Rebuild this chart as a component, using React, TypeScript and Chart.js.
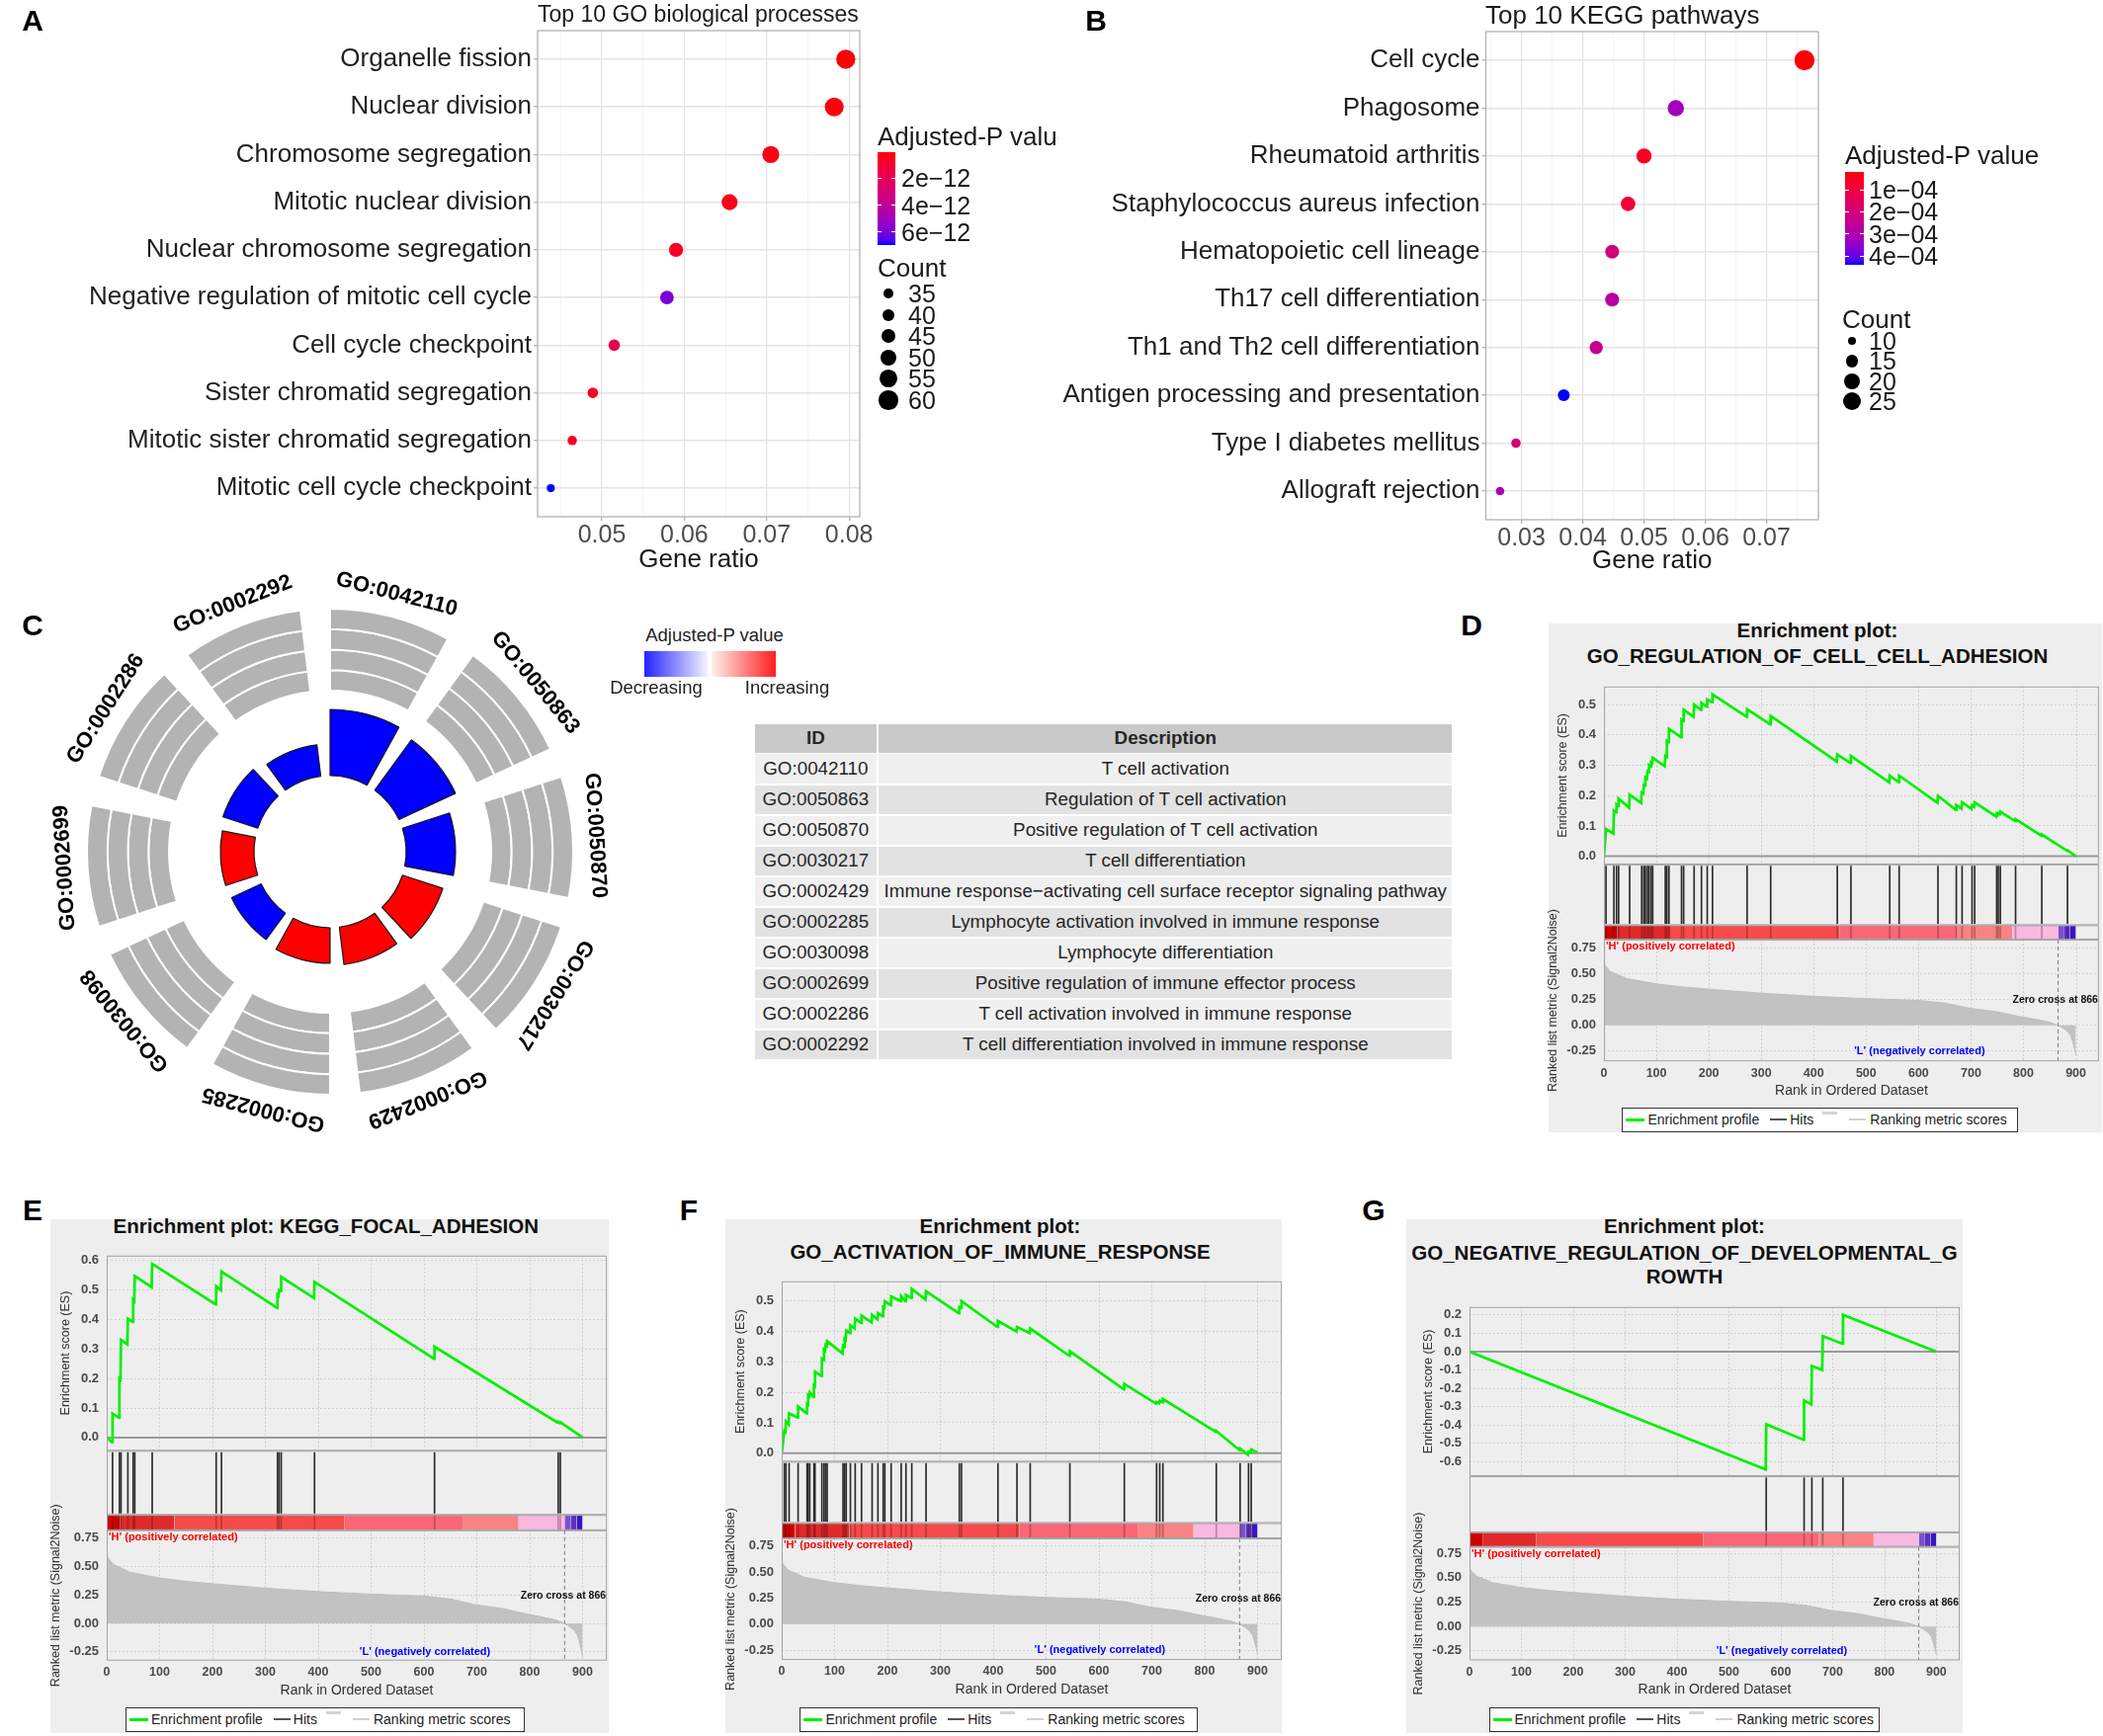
import React, { useEffect, useRef } from "react";
import { Chart, registerables } from "chart.js";

Chart.register(...registerables);
const FONT = '"Liberation Sans", Arial, Helvetica, sans-serif';
Chart.defaults.font.family = FONT;

/* ================= Panel A: top 10 GO biological processes ================= */
const GO_TERMS = [
  "Organelle fission",
  "Nuclear division",
  "Chromosome segregation",
  "Mitotic nuclear division",
  "Nuclear chromosome segregation",
  "Negative regulation of mitotic cell cycle",
  "Cell cycle checkpoint",
  "Sister chromatid segregation",
  "Mitotic sister chromatid segregation",
  "Mitotic cell cycle checkpoint",
];
const GO_GENE_RATIO = [0.0796, 0.0782, 0.0705, 0.0655, 0.059, 0.0579, 0.0515, 0.0489, 0.0464, 0.0438];
const GO_COUNT = [60, 59, 53, 50, 45, 44, 39, 37, 35, 33];
const GO_PADJ = [1.0e-13, 2.0e-13, 3.0e-13, 4.0e-13, 6.0e-13, 5.9e-12, 1.8e-12, 5.5e-13, 6.0e-13, 6.96e-12];
const GO_PADJ_LIMITS = [0.07e-12, 6.96e-12];
const GO_PADJ_BREAKS = [2e-12, 4e-12, 6e-12];
const GO_PADJ_LABELS = ["2e\u221212", "4e\u221212", "6e\u221212"];
const GO_COUNT_BREAKS = [35, 40, 45, 50, 55, 60];

/* ================= Panel B: top 10 KEGG pathways ================= */
const KEGG_TERMS = [
  "Cell cycle",
  "Phagosome",
  "Rheumatoid arthritis",
  "Staphylococcus aureus infection",
  "Hematopoietic cell lineage",
  "Th17 cell differentiation",
  "Th1 and Th2 cell differentiation",
  "Antigen processing and presentation",
  "Type I diabetes mellitus",
  "Allograft rejection",
];
const KEGG_GENE_RATIO = [0.0762, 0.0552, 0.05, 0.0474, 0.0448, 0.0448, 0.0422, 0.0369, 0.0291, 0.0265];
const KEGG_COUNT = [29, 21, 19, 18, 17, 17, 16, 14, 11, 10];
const KEGG_PADJ = [1.9e-5, 3.22e-4, 4.9e-5, 8.2e-5, 2.08e-4, 2.8e-4, 2.42e-4, 4.4e-4, 1.87e-4, 3.05e-4];
const KEGG_PADJ_LIMITS = [1.9e-5, 4.4e-4];
const KEGG_PADJ_BREAKS = [1e-4, 2e-4, 3e-4, 4e-4];
const KEGG_PADJ_LABELS = ["1e\u221204", "2e\u221204", "3e\u221204", "4e\u221204"];
const KEGG_COUNT_BREAKS = [10, 15, 20, 25];

/* ================= Panel C: GO circle + table ================= */
const CIRCLE_IDS = [
  "GO:0042110", "GO:0050863", "GO:0050870", "GO:0030217", "GO:0002429",
  "GO:0002285", "GO:0030098", "GO:0002699", "GO:0002286", "GO:0002292",
];
const CIRCLE_BAR = [67, 63, 50, 43, 38, 36, 33, 34, 37, 32];
const CIRCLE_TREND = ["down", "down", "down", "up", "up", "up", "down", "up", "down", "down"];
const TABLE_DESCRIPTIONS = [
  "T cell activation",
  "Regulation of T cell activation",
  "Positive regulation of T cell activation",
  "T cell differentiation",
  "Immune response\u2212activating cell surface receptor signaling pathway",
  "Lymphocyte activation involved in immune response",
  "Lymphocyte differentiation",
  "Positive regulation of immune effector process",
  "T cell activation involved in immune response",
  "T cell differentiation involved in immune response",
];
const RING_BANDS = [1, 2, 3, 4];

/* ================= Panels D-G: GSEA enrichment plots ================= */
const METRIC_RANK = [0, 2, 12, 44, 99, 150, 196, 300, 398, 488, 600, 650, 696, 750, 787, 820, 849, 866, 876, 884, 890, 894, 897, 900];
const METRIC_VALUE = [0.62, 0.58, 0.52, 0.45, 0.4, 0.37, 0.35, 0.31, 0.28, 0.26, 0.24, 0.215, 0.165, 0.13, 0.09, 0.06, 0.03, 0, -0.03, -0.06, -0.1, -0.16, -0.22, -0.29];
const ZERO_CROSS = 866;
const STRIP_START = [0, 25, 128, 450, 673, 779, 866, 878, 889];
const STRIP_END = [25, 128, 450, 673, 779, 866, 878, 889, 900];
const STRIP_COLOR = ["#cf0000", "#e02a2a", "#f74a4a", "#fa6676", "#fa8282", "#f8b8e2", "#7a50cc", "#5832c6", "#3814c2"];

const D_HITS = [4, 19, 24, 28, 49, 72, 76, 79, 83, 86, 90, 93, 117, 120, 124, 148, 152, 172, 186, 197, 207, 273, 318, 445, 471, 545, 563, 637, 672, 683, 702, 707, 749, 752, 756, 785, 835, 884];
const D_ES_RANK = [0, 4, 18, 19, 23, 24, 27, 28, 48, 49, 71, 72, 75, 76, 78, 79, 82, 83, 85, 86, 89, 90, 92, 93, 116, 117, 119, 120, 123, 124, 147, 148, 151, 152, 171, 172, 185, 186, 196, 197, 206, 207, 272, 273, 317, 318, 444, 445, 470, 471, 544, 545, 562, 563, 636, 637, 671, 672, 682, 683, 701, 702, 706, 707, 748, 749, 751, 752, 755, 756, 784, 785, 834, 835, 883, 884, 900];
const D_ES = [0, 0.09, 0.075, 0.15, 0.145, 0.17, 0.165, 0.19, 0.16, 0.203, 0.176, 0.21, 0.207, 0.235, 0.233, 0.26, 0.257, 0.28, 0.278, 0.3, 0.296, 0.31, 0.308, 0.325, 0.297, 0.33, 0.327, 0.38, 0.376, 0.42, 0.393, 0.45, 0.446, 0.483, 0.46, 0.5, 0.483, 0.506, 0.494, 0.517, 0.508, 0.534, 0.46, 0.485, 0.435, 0.463, 0.312, 0.336, 0.308, 0.331, 0.244, 0.266, 0.244, 0.266, 0.176, 0.199, 0.153, 0.169, 0.157, 0.178, 0.156, 0.168, 0.163, 0.178, 0.131, 0.14, 0.137, 0.142, 0.139, 0.147, 0.116, 0.122, 0.068, 0.072, 0.018, 0.02, 0];

const E_HITS = [11, 24, 27, 40, 50, 53, 86, 207, 217, 323, 326, 330, 393, 620, 854, 858];
const E_ES_RANK = [0, 10, 11, 23, 24, 26, 27, 39, 40, 49, 50, 52, 53, 85, 86, 206, 207, 216, 217, 322, 323, 325, 326, 329, 330, 392, 393, 619, 620, 853, 854, 857, 858, 900];
const E_ES = [0, -0.016, 0.081, 0.067, 0.2, 0.197, 0.331, 0.316, 0.403, 0.392, 0.467, 0.463, 0.548, 0.51, 0.589, 0.452, 0.513, 0.5, 0.563, 0.44, 0.485, 0.482, 0.5, 0.497, 0.545, 0.473, 0.528, 0.267, 0.308, 0.05, 0.053, 0.049, 0.052, 0];

const F_HITS = [5, 8, 14, 31, 48, 50, 53, 61, 63, 76, 80, 83, 86, 116, 119, 122, 130, 139, 151, 171, 182, 192, 195, 207, 226, 235, 246, 273, 336, 340, 409, 445, 470, 545, 648, 709, 715, 721, 822, 867, 883, 888];
const F_ES_RANK = [0, 5, 7, 8, 13, 14, 30, 31, 47, 48, 49, 50, 52, 53, 60, 61, 62, 63, 75, 76, 79, 80, 82, 83, 85, 86, 115, 116, 118, 119, 121, 122, 129, 130, 138, 139, 150, 151, 170, 171, 181, 182, 191, 192, 194, 195, 206, 207, 225, 226, 234, 235, 245, 246, 272, 273, 335, 336, 339, 340, 408, 409, 444, 445, 469, 470, 544, 545, 647, 648, 708, 709, 714, 715, 720, 721, 821, 822, 866, 867, 882, 883, 887, 888, 900];
const F_ES = [0, 0.073, 0.07, 0.104, 0.095, 0.131, 0.117, 0.153, 0.131, 0.16, 0.158, 0.19, 0.187, 0.2, 0.185, 0.22, 0.218, 0.268, 0.254, 0.31, 0.306, 0.34, 0.337, 0.355, 0.352, 0.368, 0.328, 0.352, 0.349, 0.375, 0.372, 0.403, 0.395, 0.42, 0.41, 0.442, 0.428, 0.452, 0.43, 0.455, 0.44, 0.46, 0.45, 0.48, 0.478, 0.5, 0.487, 0.515, 0.5, 0.516, 0.5, 0.52, 0.51, 0.54, 0.505, 0.532, 0.46, 0.48, 0.477, 0.5, 0.415, 0.435, 0.4, 0.415, 0.395, 0.41, 0.32, 0.335, 0.21, 0.228, 0.163, 0.168, 0.164, 0.172, 0.168, 0.178, 0.07, 0.073, 0.01, 0.015, -0.005, 0.004, 0.002, 0.012, 0.002];

const G_HITS = [572, 645, 660, 681, 720];
const G_ES_RANK = [0, 571, 572, 644, 645, 659, 660, 680, 681, 719, 720, 900];
const G_ES = [0, -0.643, -0.396, -0.481, -0.267, -0.287, -0.078, -0.1, 0.085, 0.043, 0.2, 0];

/* ================= colour scale (CIELAB gradient red -> blue) ================= */
const lin = (c: number) => { c /= 255; return c <= 0.04045 ? c / 12.92 : Math.pow((c + 0.055) / 1.055, 2.4); };
const gam = (c: number) => {
  const v = c <= 0.0031308 ? 12.92 * c : 1.055 * Math.pow(c, 1 / 2.4) - 0.055;
  return Math.round(Math.min(1, Math.max(0, v)) * 255);
};
function toLab(rgb: number[]) {
  const [r, g, b] = rgb.map(lin);
  const X = (0.4124564 * r + 0.3575761 * g + 0.1804375 * b) / 0.95047;
  const Y = 0.2126729 * r + 0.7151522 * g + 0.072175 * b;
  const Z = (0.0193339 * r + 0.119192 * g + 0.9503041 * b) / 1.08883;
  const f = (t: number) => (t > 216 / 24389 ? Math.cbrt(t) : ((24389 / 27) * t + 16) / 116);
  const fx = f(X), fy = f(Y), fz = f(Z);
  return [116 * fy - 16, 500 * (fx - fy), 200 * (fy - fz)];
}
function fromLab(lab: number[]) {
  const [L, a, b] = lab;
  const fy = (L + 16) / 116, fx = fy + a / 500, fz = fy - b / 200;
  const inv = (t: number) => (t * t * t > 216 / 24389 ? t * t * t : (116 * t - 16) / (24389 / 27));
  const X = inv(fx) * 0.95047, Y = inv(fy), Z = inv(fz) * 1.08883;
  const r = 3.2404542 * X - 1.5371385 * Y - 0.4985314 * Z;
  const g = -0.969266 * X + 1.8760108 * Y + 0.041556 * Z;
  const bb = 0.0556434 * X - 0.2040259 * Y + 1.0572252 * Z;
  return [gam(r), gam(g), gam(bb)];
}
const LAB_LOW = toLab([255, 0, 0]);
const LAB_HIGH = toLab([0, 0, 255]);
function gradientColor(t: number) {
  const u = Math.min(1, Math.max(0, t));
  const [r, g, b] = fromLab(LAB_LOW.map((v, i) => v + (LAB_HIGH[i] - v) * u));
  return `rgb(${r},${g},${b})`;
}
const padjColor = (p: number, lim: number[]) => gradientColor((p - lim[0]) / (lim[1] - lim[0]));
const radiusGO = (c: number) => Math.sqrt(16.8 + (c - 33) * 2.86);
const radiusKEGG = (c: number) => Math.sqrt(18.5 + (c - 10) * 4.5);

/* ================= helpers ================= */
type Box = { l: number; t: number; r: number; b: number };

function ChartCanvas({ x, y, w, h, make }: { x: number; y: number; w: number; h: number; make: () => any }) {
  const ref = useRef<HTMLCanvasElement | null>(null);
  useEffect(() => {
    if (!ref.current) return;
    const chart = new Chart(ref.current, make());
    return () => chart.destroy();
  }, []);
  return <canvas ref={ref} width={w} height={h} style={{ position: "absolute", left: x, top: y, width: w, height: h }} />;
}

function Txt({ x, y, size, children, bold, color = "#1a1a1a", align = "left" }: any) {
  const tx = align === "center" ? "-50%" : align === "right" ? "-100%" : "0";
  return (
    <div style={{ position: "absolute", left: x, top: y, transform: `translate(${tx}, -50%)`, fontSize: size, fontWeight: bold ? 700 : 400, color, fontFamily: FONT, whiteSpace: "nowrap", lineHeight: 1 }}>
      {children}
    </div>
  );
}

const framePlugin = (color: string, lw: number) => ({
  id: "frame",
  afterDraw(chart: any) {
    const { ctx, chartArea: a } = chart;
    ctx.save();
    ctx.strokeStyle = color;
    ctx.lineWidth = lw;
    ctx.strokeRect(a.left, a.top, a.right - a.left, a.bottom - a.top);
    ctx.restore();
  },
});

/* ================= dot plots (A, B) ================= */
function dotPlotConfig(p: any) {
  const isMajor = (v: number) => Math.abs(v * 100 - Math.round(v * 100)) < 1e-6;
  return {
    type: "bubble",
    data: {
      datasets: [{
        data: p.terms.map((_: string, i: number) => ({ x: p.ratio[i], y: i + 1, r: p.radius(p.count[i]) })),
        backgroundColor: p.padj.map((v: number) => padjColor(v, p.limits)),
        borderWidth: 0,
      }],
    },
    options: {
      animation: false, responsive: false, maintainAspectRatio: false,
      layout: { padding: { left: 0, top: p.padTop, right: p.padRight, bottom: 0 }, autoPadding: false },
      plugins: { legend: { display: false }, tooltip: { enabled: false } },
      scales: {
        x: {
          type: "linear", min: p.xMin, max: p.xMax, offset: false,
          ticks: { stepSize: 0.005, includeBounds: false, autoSkip: false, maxRotation: 0, padding: 0, color: "#4d4d4d", font: { size: 25 },
            callback: (v: number) => (isMajor(v) ? Number(v).toFixed(2) : "") },
          grid: {
            color: (c: any) => (isMajor(c.tick.value) ? "#e4e4e4" : "#f1f1f1"),
            lineWidth: (c: any) => (isMajor(c.tick.value) ? 1.3 : 0.8),
            tickColor: (c: any) => (isMajor(c.tick.value) ? "#b3b3b3" : "rgba(0,0,0,0)"),
            tickLength: 4, tickWidth: 1.3,
          },
          border: { display: false },
          title: { display: true, text: "Gene ratio", color: "#1a1a1a", font: { size: 26 }, padding: { top: 0, bottom: p.xTitlePad } },
          afterFit: (s: any) => { s.height = p.xAxisH; },
        },
        y: {
          type: "linear", reverse: true, min: 0.4, max: p.terms.length + 0.6, offset: false,
          ticks: { stepSize: 1, includeBounds: false, autoSkip: false, padding: 2, color: "#1f1f1f", font: { size: 26 },
            callback: (v: number) => p.terms[Math.round(v) - 1] ?? "" },
          grid: { color: "#e4e4e4", lineWidth: 1.4, tickColor: "#b3b3b3", tickLength: 4, tickWidth: 1.3 },
          border: { display: false },
          afterFit: (s: any) => { s.width = p.yAxisW; },
        },
      },
    },
    plugins: [framePlugin("#b3b3b3", 1.3)],
  };
}

function ColorBarLegend(p: any) {
  const stops = Array.from({ length: 21 }, (_, k) => gradientColor(k / 20)).join(", ");
  const h = p.bar.b - p.bar.t;
  return (
    <>
      <div style={{ position: "absolute", left: p.titleX, top: p.titleY - 16, width: p.clipW, height: 32, overflow: "hidden" }}>
        <div style={{ fontSize: 26, lineHeight: "32px", whiteSpace: "nowrap", color: "#1a1a1a", fontFamily: FONT }}>{p.title}</div>
      </div>
      <div style={{ position: "absolute", left: p.bar.l, top: p.bar.t, width: p.bar.r - p.bar.l, height: h, background: `linear-gradient(to bottom, ${stops})` }} />
      {p.breaks.map((v: number, i: number) => {
        const y = p.bar.t + ((v - p.limits[0]) / (p.limits[1] - p.limits[0])) * h;
        return (
          <React.Fragment key={i}>
            <div style={{ position: "absolute", left: p.bar.l, top: y - 0.5, width: 4, height: 1, background: "#fff" }} />
            <div style={{ position: "absolute", left: p.bar.r - 4, top: y - 0.5, width: 4, height: 1, background: "#fff" }} />
            <Txt x={p.labelX} y={y} size={25}>{p.labels[i]}</Txt>
          </React.Fragment>
        );
      })}
    </>
  );
}

function CountLegend(p: any) {
  return (
    <>
      <Txt x={p.titleX} y={p.titleY} size={26}>Count</Txt>
      {p.counts.map((c: number, i: number) => {
        const r = p.radius(c);
        return (
          <React.Fragment key={c}>
            <div style={{ position: "absolute", left: p.dotX - r, top: p.ys[i] - r, width: 2 * r, height: 2 * r, borderRadius: "50%", background: "#000" }} />
            <Txt x={p.labelX} y={p.ys[i]} size={25}>{c}</Txt>
          </React.Fragment>
        );
      })}
    </>
  );
}

/* ================= GO circle (C) ================= */
const SEG_DEG = 29;
const GAP_DEG = 7;
const INNER_R = 77;
const LABEL_R = 269;

function ringConfig() {
  return {
    type: "doughnut",
    data: {
      labels: CIRCLE_IDS.flatMap((id) => [id, ""]),
      datasets: RING_BANDS.map(() => ({
        data: CIRCLE_IDS.flatMap(() => [SEG_DEG, GAP_DEG]),
        backgroundColor: CIRCLE_IDS.flatMap(() => ["#b3b3b3", "rgba(0,0,0,0)"]),
        borderColor: "#ffffff",
        borderWidth: CIRCLE_IDS.flatMap(() => [2, 0]),
        hoverOffset: 0,
      })),
    },
    options: {
      animation: false, responsive: false, maintainAspectRatio: false,
      cutout: "66.26%",
      layout: { padding: 43, autoPadding: false },
      plugins: { legend: { display: false }, tooltip: { enabled: false } },
    },
    plugins: [{
      id: "circleLabels",
      afterDraw(chart: any) {
        const { ctx, chartArea: a } = chart;
        const cx = (a.left + a.right) / 2, cy = (a.top + a.bottom) / 2;
        ctx.save();
        ctx.font = `bold 22px ${FONT}`;
        ctx.fillStyle = "#000";
        ctx.textAlign = "center";
        ctx.textBaseline = "middle";
        CIRCLE_IDS.forEach((id, i) => {
          const th = ((i * (SEG_DEG + GAP_DEG) + SEG_DEG / 2) * Math.PI) / 180;
          ctx.save();
          ctx.translate(cx + LABEL_R * Math.sin(th), cy - LABEL_R * Math.cos(th));
          ctx.rotate(th);
          ctx.fillText(id, 0, 0);
          ctx.restore();
        });
        ctx.restore();
      },
    }],
  };
}

function barRingConfig() {
  return {
    type: "polarArea",
    data: {
      labels: CIRCLE_IDS.flatMap((id) => [id, ""]),
      datasets: [{
        data: CIRCLE_IDS.flatMap((_, i) => [CIRCLE_BAR[i], 0]),
        backgroundColor: CIRCLE_IDS.flatMap((_, i) => [CIRCLE_TREND[i] === "up" ? "#ff0000" : "#0000ff", "rgba(0,0,0,0)"]),
        borderColor: "#1a1a1a",
        borderWidth: CIRCLE_IDS.flatMap(() => [1.2, 0]),
        angle: (c: any) => (c.dataIndex % 2 === 0 ? SEG_DEG : GAP_DEG),
      }],
    },
    options: {
      animation: false, responsive: false, maintainAspectRatio: false,
      layout: { padding: 43, autoPadding: false },
      plugins: { legend: { display: false }, tooltip: { enabled: false } },
      scales: { r: { display: false, min: -INNER_R, max: 247 - INNER_R, startAngle: 0 } },
    },
    plugins: [{
      id: "innerBase",
      afterDatasetsUpdate(chart: any) {
        const s = chart.scales.r;
        const base = s.getDistanceFromCenterForValue(0);
        chart.getDatasetMeta(0).data.forEach((el: any) => { el.innerRadius = base; });
      },
    }],
  };
}

function GoTable() {
  const x = 764, y = 733.3, idW = 122.7, descW = 580, headH = 28.4, rowH = 31;
  const cellStyle = (w: number, bg: string, bold: boolean) => ({
    width: w, height: "100%", background: bg, display: "flex", alignItems: "center", justifyContent: "center",
    fontWeight: bold ? 700 : 400, whiteSpace: "nowrap" as const,
  });
  return (
    <div style={{ position: "absolute", left: x, top: y, width: idW + 2.6 + descW, fontFamily: FONT, fontSize: 18.8, color: "#262626" }}>
      <div style={{ display: "flex", height: headH }}>
        <div style={cellStyle(idW, "#c9c9c9", true)}>ID</div>
        <div style={{ width: 2.6 }} />
        <div style={cellStyle(descW, "#c9c9c9", true)}>Description</div>
      </div>
      {CIRCLE_IDS.map((id, i) => {
        const bg = i % 2 === 0 ? "#f0f0f0" : "#e2e2e2";
        return (
          <div key={id} style={{ display: "flex", height: rowH, paddingTop: i === 0 ? 1.6 : 2, boxSizing: "border-box" }}>
            <div style={cellStyle(idW, bg, false)}>{id}</div>
            <div style={{ width: 2.6 }} />
            <div style={cellStyle(descW, bg, false)}>{TABLE_DESCRIPTIONS[i]}</div>
          </div>
        );
      })}
    </div>
  );
}

/* ================= GSEA plots (D-G) ================= */
const GSEA_YW = 78;
const GSEA_XH = 40;
const GSEA_PADTOP = 4;

const gseaDecor = {
  id: "gseaDecor",
  beforeDatasetsDraw(chart: any) {
    const { ctx, scales } = chart;
    const x = scales.x;
    ctx.save();
    ctx.strokeStyle = "#cfcfcf";
    ctx.lineWidth = 1;
    ctx.setLineDash([2, 2]);
    x.ticks.forEach((t: any) => {
      if (t.value <= 0) return;
      const px = Math.round(x.getPixelForValue(t.value)) + 0.5;
      ["yES", "yMetric"].forEach((id) => {
        const s = scales[id];
        ctx.beginPath();
        ctx.moveTo(px, s.top);
        ctx.lineTo(px, s.bottom);
        ctx.stroke();
      });
    });
    ctx.restore();
  },
  afterDatasetsDraw(chart: any) {
    const { ctx, chartArea: a, scales } = chart;
    ctx.save();
    ctx.strokeStyle = "#a3a3a3";
    ctx.lineWidth = 1;
    ["yES", "yHits", "yBar", "yMetric"].forEach((id) => {
      const s = scales[id];
      ctx.strokeRect(a.left + 0.5, s.top + 0.5, a.right - a.left - 1, s.bottom - s.top - 1);
    });
    const m = scales.yMetric, x = scales.x;
    ctx.textBaseline = "middle";
    ctx.font = `bold 11px ${FONT}`;
    ctx.fillStyle = "#ff0000";
    ctx.textAlign = "left";
    ctx.fillText("'H' (positively correlated)", a.left + 2, m.top + 7);
    ctx.fillStyle = "#0000ff";
    ctx.textAlign = "center";
    ctx.fillText("'L' (negatively correlated)", x.getPixelForValue(602), m.getPixelForValue(-0.25));
    ctx.font = `bold 10.5px ${FONT}`;
    ctx.fillStyle = "#111";
    ctx.textAlign = "right";
    ctx.fillText(`Zero cross at ${ZERO_CROSS}`, a.right - 1, m.getPixelForValue(0.24));
    ctx.restore();
  },
};

function gseaConfig(L: any, hits: number[], esRank: number[], es: number[], padRight: number, padBottom: number) {
  const esH = L.esB - L.esT, hitsH = L.hitsB - L.esB, barH = L.barB - L.hitsB, metH = L.metB - L.barB;
  const yTickFont = { size: 13, weight: "bold" };
  const xTickFont = { size: 12.5, weight: "bold" };
  const hiddenY = (w: number, h: number, min: number, max: number) => ({
    type: "linear", position: "left", stack: "gsea", stackWeight: h, weight: w, min, max,
    ticks: { display: false }, grid: { display: false, drawTicks: false }, border: { display: false },
    afterFit: (s: any) => { s.width = GSEA_YW; },
  });
  return {
    type: "line",
    data: {
      datasets: [
        { label: "Enrichment profile", data: esRank.map((r, i) => ({ x: r, y: es[i] })), yAxisID: "yES", borderColor: "#00f000", borderWidth: 2.7, pointRadius: 0, fill: false, order: 0 },
        { label: "zero", data: [{ x: 0, y: 0 }, { x: L.xMax, y: 0 }], yAxisID: "yES", borderColor: "#9a9a9a", borderWidth: 2, pointRadius: 0, fill: false, order: 8 },
        { type: "bar", label: "Hits", data: hits.map((r) => ({ x: r, y: 1 })), yAxisID: "yHits", backgroundColor: "#2a2a2a", barThickness: 1, grouped: false, order: 3 },
        { type: "bar", label: "Hits in strip", data: hits.map((r) => ({ x: r, y: 1 })), yAxisID: "yBar", backgroundColor: "rgba(70,0,0,0.3)", barThickness: 1, grouped: false, order: 5 },
        ...STRIP_START.map((s, i) => ({
          label: "strip", data: [{ x: s, y: 1 }, { x: STRIP_END[i], y: 1 }], yAxisID: "yBar",
          borderColor: "rgba(0,0,0,0)", borderWidth: 0, pointRadius: 0, fill: "origin", backgroundColor: STRIP_COLOR[i], order: 9,
        })),
        { label: "Ranking metric scores", data: METRIC_RANK.map((r, i) => ({ x: r, y: METRIC_VALUE[i] })), yAxisID: "yMetric", borderColor: "#bdbdbd", borderWidth: 1, pointRadius: 0, fill: "origin", backgroundColor: "#c2c2c2", order: 7 },
        { label: "zero cross", data: [{ x: ZERO_CROSS, y: L.met[1] }, { x: ZERO_CROSS, y: L.met[0] }], yAxisID: "yMetric", borderColor: "#7a7a7a", borderWidth: 1, borderDash: [4, 3], pointRadius: 0, fill: false, order: 2 },
      ],
    },
    options: {
      animation: false, responsive: false, maintainAspectRatio: false,
      layout: { padding: { left: 0, top: GSEA_PADTOP, right: padRight, bottom: padBottom }, autoPadding: false },
      plugins: { legend: { display: false }, tooltip: { enabled: false } },
      elements: { line: { tension: 0 } },
      scales: {
        x: {
          type: "linear", position: "bottom", min: 0, max: L.xMax, offset: false,
          ticks: { stepSize: 100, includeBounds: false, autoSkip: false, maxRotation: 0, font: xTickFont, color: "#4a4a4a", padding: 4.5 },
          grid: { display: false, drawTicks: false, offset: false },
          border: { display: false },
          title: { display: true, text: "Rank in Ordered Dataset", font: { size: 14 }, color: "#333", padding: { top: 0, bottom: 1.6 } },
          afterFit: (s: any) => { s.height = GSEA_XH; },
        },
        yES: {
          type: "linear", position: "left", stack: "gsea", stackWeight: esH, weight: 4, min: L.es[0], max: L.es[1],
          ticks: { stepSize: 0.1, includeBounds: false, autoSkip: false, font: yTickFont, color: "#4a4a4a", padding: 8, callback: (v: number) => Number(v).toFixed(1) },
          grid: { color: "#d3d3d3", drawTicks: false },
          border: { display: false, dash: [2, 2] },
          title: { display: true, text: "Enrichment score (ES)", font: { size: 12.5 }, color: "#333", padding: { top: 29, bottom: 0 } },
          afterFit: (s: any) => { s.width = GSEA_YW; },
        },
        yHits: hiddenY(3, hitsH, -0.03, 1.03),
        yBar: hiddenY(2, barH, 0, 1),
        yMetric: {
          type: "linear", position: "left", stack: "gsea", stackWeight: metH, weight: 1, min: L.met[0], max: L.met[1],
          ticks: { stepSize: 0.25, includeBounds: false, autoSkip: false, font: yTickFont, color: "#4a4a4a", padding: 8, callback: (v: number) => Number(v).toFixed(2) },
          grid: { color: "#d3d3d3", drawTicks: false },
          border: { display: false, dash: [2, 2] },
          title: { display: true, text: "Ranked list metric (Signal2Noise)", font: { size: 12.5 }, color: "#333", padding: { top: 19, bottom: 0 } },
          afterFit: (s: any) => { s.width = GSEA_YW; },
        },
      },
    },
    plugins: [gseaDecor],
  };
}

function GseaLegend({ b }: { b: Box }) {
  const line = (w: number, c: string, h = 2) => (
    <span style={{ display: "inline-block", width: w, height: h, background: c, verticalAlign: "middle" }} />
  );
  return (
    <div style={{ position: "absolute", left: b.l, top: b.t, width: b.r - b.l, height: b.b - b.t, boxSizing: "border-box", border: "1.5px solid #333", background: "#fff", fontFamily: FONT, fontSize: 14, color: "#222", display: "flex", alignItems: "center", paddingLeft: 3, whiteSpace: "nowrap" }}>
      {line(19, "#00f000", 3)}
      <span style={{ marginLeft: 3 }}>Enrichment profile</span>
      <span style={{ marginLeft: 11 }} />
      {line(17, "#555")}
      <span style={{ marginLeft: 3 }}>Hits</span>
      <span style={{ display: "inline-block", width: 15, height: 3, background: "#d4d4d4", marginLeft: 9, position: "relative", top: -7 }} />
      <span style={{ marginLeft: 12 }} />
      {line(17, "#d0d0d0")}
      <span style={{ marginLeft: 4 }}>Ranking metric scores</span>
    </div>
  );
}

function GseaPanel({ L, hits, esRank, es }: any) {
  const plotW = L.plotR - L.plotL, plotH = L.metB - L.esT;
  const cw = Math.ceil(GSEA_YW + plotW + 2);
  const ch = Math.ceil(GSEA_PADTOP + plotH + GSEA_XH + 1);
  const padRight = cw - GSEA_YW - plotW;
  const padBottom = ch - GSEA_PADTOP - plotH - GSEA_XH;
  return (
    <>
      <div style={{ position: "absolute", left: L.box.l, top: L.box.t, width: L.box.r - L.box.l, height: L.box.b - L.box.t, background: "#eeeeee" }} />
      <ChartCanvas x={L.plotL - GSEA_YW} y={L.esT - GSEA_PADTOP} w={cw} h={ch} make={() => gseaConfig(L, hits, esRank, es, padRight, padBottom)} />
      {L.titleLines.map((s: string, i: number) => (
        <Txt key={i} x={L.titleX} y={L.titleY[i]} size={20.5} bold align="center" color="#111">{s}</Txt>
      ))}
      <GseaLegend b={L.legend} />
    </>
  );
}

const LAYOUT_D = {
  box: { l: 1566.6, t: 631.4, r: 2127, b: 1146 }, titleX: 1839,
  titleLines: ["Enrichment plot:", "GO_REGULATION_OF_CELL_CELL_ADHESION"], titleY: [637.5, 664],
  plotL: 1622.6, plotR: 2123.5, esT: 682.9, esB: 868.6, hitsB: 932, barB: 947, metB: 1074,
  xMax: 944, es: [-0.027, 0.56], met: [-0.348, 0.828], legend: { l: 1641.4, t: 1120.7, r: 2042, b: 1145.7 },
};
const LAYOUT_E = {
  box: { l: 51, t: 1233.7, r: 615.5, b: 1754 }, titleX: 329.8,
  titleLines: ["Enrichment plot: KEGG_FOCAL_ADHESION"], titleY: [1240.9],
  plotL: 108.2, plotR: 614.3, esT: 1258.6, esB: 1461.8, hitsB: 1528.6, barB: 1544.6, metB: 1680.3,
  xMax: 946, es: [-0.045, 0.617], met: [-0.327, 0.819], legend: { l: 127, t: 1727.5, r: 530.6, b: 1752.7 },
};
const LAYOUT_F = {
  box: { l: 733.5, t: 1233.7, r: 1296.7, b: 1754 }, titleX: 1012,
  titleLines: ["Enrichment plot:", "GO_ACTIVATION_OF_IMMUNE_RESPONSE"], titleY: [1240.9, 1266.8],
  plotL: 790.6, plotR: 1296.7, esT: 1285.3, esB: 1473.5, hitsB: 1537.5, barB: 1553.5, metB: 1680.3,
  xMax: 946, es: [-0.028, 0.565], met: [-0.344, 0.825], legend: { l: 809.4, t: 1727.5, r: 1212.2, b: 1753 },
};
const LAYOUT_G = {
  box: { l: 1422.9, t: 1233.7, r: 1986, b: 1754 }, titleX: 1704.5,
  titleLines: ["Enrichment plot:", "GO_NEGATIVE_REGULATION_OF_DEVELOPMENTAL_G", "ROWTH"], titleY: [1240.9, 1267.5, 1292.4],
  plotL: 1487.3, plotR: 1983.3, esT: 1310.8, esB: 1487.7, hitsB: 1546.4, barB: 1561.6, metB: 1680.3,
  xMax: 945, es: [-0.679, 0.243], met: [-0.348, 0.816], legend: { l: 1506.5, t: 1727.5, r: 1901.6, b: 1753 },
};

/* ================= page ================= */
export default function App() {
  return (
    <div style={{ position: "absolute", left: 0, top: 0, width: 2128, height: 1757, overflow: "hidden", background: "#ffffff", fontFamily: FONT }}>
      {/* A */}
      <ChartCanvas x={0} y={0} w={910} h={590} make={() => dotPlotConfig({
        terms: GO_TERMS, ratio: GO_GENE_RATIO, count: GO_COUNT, padj: GO_PADJ, limits: GO_PADJ_LIMITS, radius: radiusGO,
        xMin: 0.0422, xMax: 0.0813, yAxisW: 544, padTop: 31, padRight: 40, xAxisH: 67, xTitlePad: 7.4,
      })} />
      <Txt x={544} y={14} size={23}>Top 10 GO biological processes</Txt>
      <ColorBarLegend title="Adjusted-P value" titleX={888} titleY={138} clipW={183} bar={{ l: 888, t: 154, r: 906, b: 248 }}
        limits={GO_PADJ_LIMITS} breaks={GO_PADJ_BREAKS} labels={GO_PADJ_LABELS} labelX={912} />
      <CountLegend titleX={888} titleY={271} counts={GO_COUNT_BREAKS} ys={[297, 318.6, 340.2, 361.8, 383.4, 405]} dotX={899} labelX={919} radius={radiusGO} />

      {/* B */}
      <ChartCanvas x={1040} y={0} w={840} h={590} make={() => dotPlotConfig({
        terms: KEGG_TERMS, ratio: KEGG_GENE_RATIO, count: KEGG_COUNT, padj: KEGG_PADJ, limits: KEGG_PADJ_LIMITS, radius: radiusKEGG,
        xMin: 0.02418, xMax: 0.07847, yAxisW: 463.5, padTop: 32, padRight: 40, xAxisH: 64, xTitlePad: 7,
      })} />
      <Txt x={1503} y={15} size={26}>Top 10 KEGG pathways</Txt>
      <ColorBarLegend title="Adjusted-P value" titleX={1867} titleY={157} clipW={240} bar={{ l: 1867, t: 174, r: 1886, b: 268 }}
        limits={KEGG_PADJ_LIMITS} breaks={KEGG_PADJ_BREAKS} labels={KEGG_PADJ_LABELS} labelX={1891} />
      <CountLegend titleX={1864} titleY={323} counts={KEGG_COUNT_BREAKS} ys={[345, 365.3, 385.6, 405.9]} dotX={1874} labelX={1891} radius={radiusKEGG} />

      {/* C */}
      <ChartCanvas x={44} y={571.5} w={580} h={580} make={ringConfig} />
      <ChartCanvas x={44} y={571.5} w={580} h={580} make={barRingConfig} />
      <Txt x={723} y={643} size={18.5} align="center" color="#222">Adjusted-P value</Txt>
      <div style={{ position: "absolute", left: 651.7, top: 658.8, width: 64.3, height: 26, background: "linear-gradient(to right, #2424ff, #f6f2ff)" }} />
      <div style={{ position: "absolute", left: 719.7, top: 658.8, width: 65.8, height: 26, background: "linear-gradient(to right, #fff1ec, #ff1e1e)" }} />
      <Txt x={664} y={696} size={18.5} align="center" color="#222">Decreasing</Txt>
      <Txt x={796.5} y={696} size={18.5} align="center" color="#222">Increasing</Txt>
      <GoTable />

      {/* D-G */}
      <GseaPanel L={LAYOUT_D} hits={D_HITS} esRank={D_ES_RANK} es={D_ES} />
      <GseaPanel L={LAYOUT_E} hits={E_HITS} esRank={E_ES_RANK} es={E_ES} />
      <GseaPanel L={LAYOUT_F} hits={F_HITS} esRank={F_ES_RANK} es={F_ES} />
      <GseaPanel L={LAYOUT_G} hits={G_HITS} esRank={G_ES_RANK} es={G_ES} />

      {/* panel letters */}
      <Txt x={33} y={21} size={30} bold align="center" color="#000">A</Txt>
      <Txt x={1109} y={21} size={30} bold align="center" color="#000">B</Txt>
      <Txt x={33} y={633} size={30} bold align="center" color="#000">C</Txt>
      <Txt x={1489} y={633} size={30} bold align="center" color="#000">D</Txt>
      <Txt x={33} y={1225} size={30} bold align="center" color="#000">E</Txt>
      <Txt x={697} y={1225} size={30} bold align="center" color="#000">F</Txt>
      <Txt x={1390} y={1225} size={30} bold align="center" color="#000">G</Txt>
    </div>
  );
}
